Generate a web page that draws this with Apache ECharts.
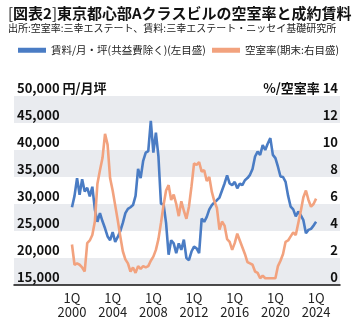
<!DOCTYPE html>
<html><head><meta charset="utf-8">
<script src="https://cdn.jsdelivr.net/npm/echarts@6/dist/echarts.min.js"></script>
<style>html,body{margin:0;padding:0;background:#fff}#c{width:354px;height:329px}</style>
</head><body><div id="c"></div>
<script>
// Quarterly data, 1Q 2000 .. 1Q 2024
const startYear = 2000;
const rentName = '賃料/月・坪(共益費除く)(左目盛)';
const vacName = '空室率(期末:右目盛)';
const rent = [
 29400,31500,34800,31700,34600,32300,33000,31400,33200,29000,
 26700,28300,26800,25500,24000,23300,24800,23000,23900,25000,
 26500,28300,29100,29400,29800,31500,36500,34800,38000,39500,
 39800,45400,39500,43200,38800,30000,30000,26500,20600,23300,
 22700,20900,22700,21500,23400,20000,19600,21200,22100,21800,
 20900,27300,26700,27600,29000,29800,30300,30700,31200,32500,
 33800,35300,33800,33500,34100,32900,33800,33500,34400,34800,
 35400,36500,38800,39700,39100,40900,40000,41200,42200,39100,
 38500,36900,35100,35000,34100,31500,29500,29000,27700,28600,
 27900,27000,24600,25200,25400,26000,26700
];
const vacancy = [
 3.0,1.5,1.6,1.5,1.3,1.0,3.1,3.3,3.7,4.7,
 7.5,8.5,9.4,11.2,10.4,7.9,7.0,5.9,4.8,3.6,
 2.5,1.9,1.6,1.0,1.3,0.9,1.4,1.2,1.4,1.3,
 1.4,1.8,2.1,2.6,3.4,4.6,5.9,7.0,7.4,6.3,
 6.7,6.0,5.1,6.2,5.5,4.9,5.8,7.3,9.0,8.9,
 9.1,8.4,8.5,7.7,8.0,6.9,6.2,5.7,4.1,4.7,
 4.4,3.4,3.2,2.6,3.1,3.8,3.3,2.8,2.3,1.7,
 1.6,1.5,1.0,0.9,0.5,0.7,0.5,0.5,0.5,0.5,
 0.5,1.4,1.8,2.3,3.2,3.3,3.6,3.9,3.7,4.6,
 5.5,6.5,7.0,6.3,5.8,6.0,6.4
];
const xTickYears = [2000,2004,2008,2012,2016,2020,2024];
const leftAxis = {min:15000, max:50000, step:5000, unit:'円/月坪'};
const rightAxis = {min:0, max:14, step:2, unit:'%/空室率'};

const FONT = '"Noto Sans CJK JP", "Noto Sans", sans-serif';
const BLUE = '#4a7cc4';
const ORANGE = '#f2a27e';
const toXY = (arr) => arr.map((v,i)=>[startYear + i/4, v]);
const legendText = {fontFamily:FONT,fontSize:10.5,color:'#222'};

const chart = echarts.init(document.getElementById('c'), null, {renderer:'canvas'});
chart.setOption({
  animation:false,
  textStyle:{fontFamily:FONT},
  title:{
    left:3, top:1,
    text:'{b|[}{a|図表2}{b|]}{a|東京都心部Aクラスビルの空室率と成約賃料}',
    textStyle:{rich:{
      a:{fontFamily:FONT,fontSize:15,fontWeight:'bold',color:'#111'},
      b:{fontFamily:FONT,fontSize:15,fontWeight:'normal',color:'#111'}
    }},
    subtext:'出所:空室率:三幸エステート、賃料:三幸エステート・ニッセイ基礎研究所',
    subtextStyle:{fontFamily:FONT,fontSize:10,color:'#222'},
    itemGap:2
  },
  legend:[{
    left:13, top:40, icon:'rect', itemWidth:28, itemHeight:5, itemGap:12,
    textStyle:legendText, data:[rentName]
  },{
    left:207, top:40, icon:'rect', itemWidth:28, itemHeight:5, itemGap:12,
    textStyle:legendText, data:[vacName]
  }],
  grid:{left:14, right:14, top:96, bottom:44, containLabel:false},
  xAxis:{
    type:'value', min:1994.3, max:2026.35,
    axisLine:{show:true, lineStyle:{color:'#111', width:1.5}},
    axisTick:{show:false}, splitLine:{show:false},
    axisLabel:{
      customValues:xTickYears, color:'#222', fontSize:13, lineHeight:14, margin:6,
      fontFamily:FONT,
      formatter:(v)=>'1Q\n'+v
    }
  },
  yAxis:[{
    type:'value', position:'left', min:leftAxis.min, max:leftAxis.max, interval:leftAxis.step,
    axisLine:{show:false}, axisTick:{show:false}, splitLine:{show:false},
    splitArea:{show:true, areaStyle:{color:['#e9ebef','#ffffff']}},
    axisLabel:{
      inside:true, margin:3, verticalAlign:'bottom', color:'#111', fontSize:13, fontWeight:'bold',
      fontFamily:FONT, padding:[0,0,1,0],
      formatter:(v)=> v===leftAxis.max ? v.toLocaleString('en-US')+' '+leftAxis.unit : v.toLocaleString('en-US')
    }
  },{
    type:'value', position:'right', min:rightAxis.min, max:rightAxis.max, interval:rightAxis.step,
    axisLine:{show:false}, axisTick:{show:false}, splitLine:{show:false}, splitArea:{show:false},
    axisLabel:{
      inside:true, margin:2, verticalAlign:'bottom', color:'#111', fontSize:13, fontWeight:'bold',
      fontFamily:FONT, padding:[0,0,1,0],
      formatter:(v)=> v===rightAxis.max ? rightAxis.unit+' '+v : String(v)
    }
  }],
  series:[
    {name:rentName, type:'line', yAxisIndex:0, data:toXY(rent), symbol:'none',
     lineStyle:{color:BLUE,width:2.6}, itemStyle:{color:BLUE}},
    {name:vacName, type:'line', yAxisIndex:1, data:toXY(vacancy), symbol:'none',
     lineStyle:{color:ORANGE,width:2.6}, itemStyle:{color:ORANGE}}
  ]
});
</script>
</body></html>
